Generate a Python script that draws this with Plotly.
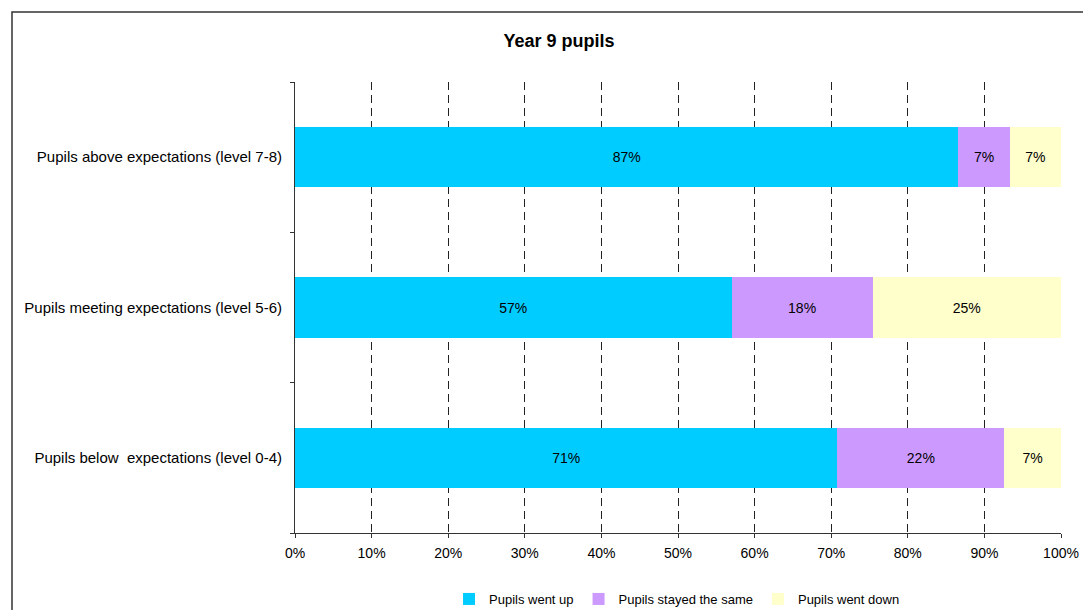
import plotly.graph_objects as go

categories = [
    "Pupils below  expectations (level 0-4)",
    "Pupils meeting expectations (level 5-6)",
    "Pupils above expectations (level 7-8)",
]
went_up = [70.8, 57.0, 86.6]
stayed_same = [21.8, 18.4, 6.7]
went_down = [7.4, 24.6, 6.7]

series_names = ["Pupils went up", "Pupils stayed the same", "Pupils went down"]
series_values = [went_up, stayed_same, went_down]
colors = ["#00CCFF", "#CC99FF", "#FFFFCC"]

FONT = "Arial, Liberation Sans, sans-serif"

fig = go.Figure()
for name, vals, col in zip(series_names, series_values, colors):
    fig.add_trace(go.Bar(
        y=categories, x=vals, name=name, orientation="h",
        marker=dict(color=col, line=dict(width=0)),
        width=0.4,
        texttemplate="%{x:.0f}%",
        textposition="inside",
        insidetextanchor="middle",
        textangle=0,
        textfont=dict(color="#000000", size=14, family=FONT),
        hoverinfo="skip",
    ))

# page has an 8px body margin; figure coordinates are page - 8
OFF = 8
W, H = 1083, 602
L, R, T, B = 295 - OFF, 30, 82 - OFF, 77
pw = W - L - R
ph = H - T - B

def px_x(p):
    return (p - OFF - L) / pw

def px_y(p):
    return (H - B - (p - OFF)) / ph

fig.update_layout(
    barmode="stack",
    width=W, height=H,
    margin=dict(l=L, r=R, t=T, b=B, pad=0, autoexpand=False),
    paper_bgcolor="white",
    plot_bgcolor="white",
    font=dict(family=FONT, size=14, color="#000000"),
    title=dict(text="<b>Year 9 pupils</b>", x=(559 - OFF) / W, y=1 - (41 - OFF) / H,
               xanchor="center", yanchor="middle",
               font=dict(size=18, family=FONT, color="#000000")),
    legend=dict(orientation="h", x=px_x(677), xanchor="center",
                y=px_y(599), yanchor="middle",
                font=dict(size=13, family=FONT),
                itemwidth=30, traceorder="normal",
                bgcolor="rgba(0,0,0,0)"),
    xaxis=dict(range=[0, 100], dtick=10, tick0=0, ticksuffix="%",
               showgrid=True, gridcolor="#222222", gridwidth=1,
               griddash="8px,5px",
               showline=True, linecolor="#333333", linewidth=1,
               ticks="outside", ticklen=4, tickcolor="#333333",
               ticklabelstandoff=3,
               zeroline=False, fixedrange=True,
               tickfont=dict(size=14)),
    yaxis=dict(categoryorder="array", categoryarray=categories,
               showline=True, linecolor="#333333", linewidth=1,
               ticks="outside", ticklen=4, tickcolor="#333333",
               tickson="boundaries", showgrid=False,
               ticklabelstandoff=9,
               tickfont=dict(size=15), fixedrange=True),
    bargap=0.6,
)

fig.add_shape(type="rect", xref="paper", yref="paper",
              x0=px_x(12), x1=px_x(1120), y0=px_y(650), y1=px_y(12),
              line=dict(color="#333333", width=1.5), fillcolor="rgba(0,0,0,0)",
              layer="below")

fig.write_html("out.html")
